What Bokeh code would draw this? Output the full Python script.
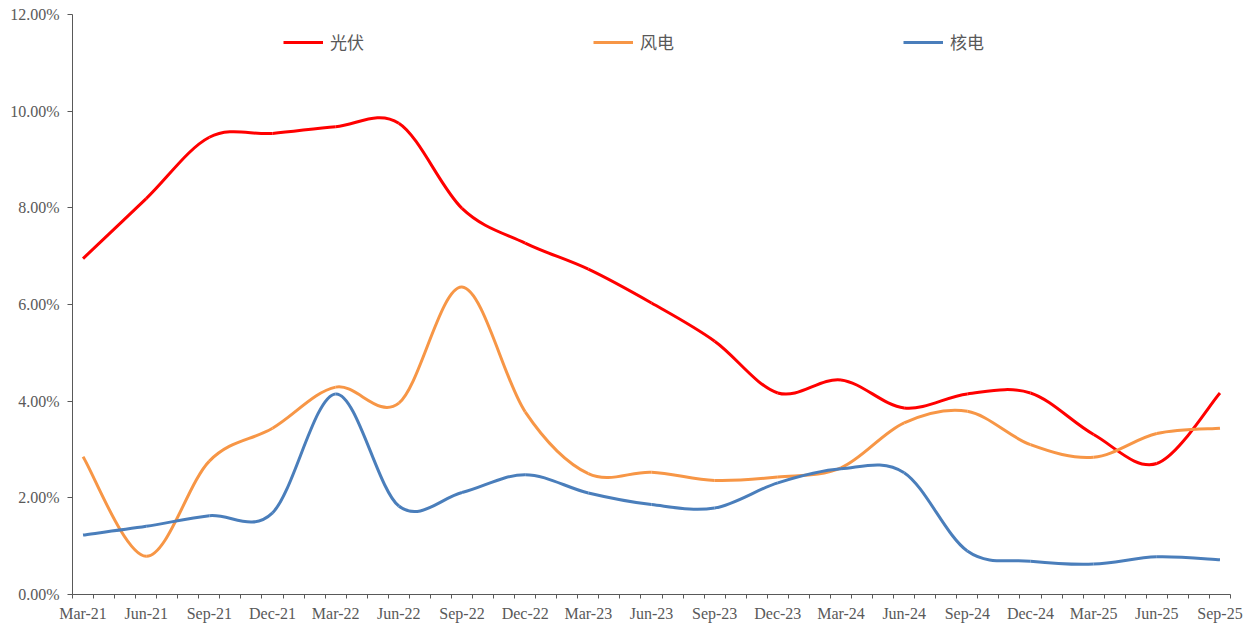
import numpy as np
from bokeh.plotting import figure
from bokeh.models import (ColumnDataSource, Range1d, FixedTicker, PrintfTickFormatter,
                          Legend, LegendItem)
from bokeh.embed import file_html
from bokeh.resources import INLINE

# ---- data (quarterly, %) ----
quarters = ["Mar-21", "Jun-21", "Sep-21", "Dec-21", "Mar-22", "Jun-22", "Sep-22", "Dec-22",
            "Mar-23", "Jun-23", "Sep-23", "Dec-23", "Mar-24", "Jun-24", "Sep-24", "Dec-24",
            "Mar-25", "Jun-25", "Sep-25"]
solar = [6.95, 8.19, 9.46, 9.54, 9.68, 9.75, 7.99, 7.27, 6.73, 6.03, 5.24, 4.17,
         4.44, 3.86, 4.15, 4.17, 3.31, 2.71, 4.17]
wind = [2.85, 0.79, 2.76, 3.44, 4.29, 3.96, 6.36, 3.78, 2.50, 2.53, 2.36, 2.43,
        2.62, 3.55, 3.79, 3.10, 2.84, 3.33, 3.44]
nuclear = [1.23, 1.41, 1.63, 1.69, 4.15, 1.83, 2.11, 2.48, 2.10, 1.86, 1.79, 2.31,
           2.60, 2.52, 0.90, 0.69, 0.63, 0.78, 0.72]
series_names = ["光伏", "风电", "核电"]
series_colors = ["#FF0000", "#F79646", "#4A7EBB"]

# month index of each quarter on a monthly axis
months = [3 * i for i in range(len(quarters))]


def smooth_source(xs, ys):
    """Bezier segments (Catmull-Rom style smoothing, like a spreadsheet 'smoothed line')."""
    n = len(xs)
    d = dict(x0=[], y0=[], x1=[], y1=[], cx0=[], cy0=[], cx1=[], cy1=[])
    for i in range(n - 1):
        xp, yp = (xs[i - 1], ys[i - 1]) if i > 0 else (xs[i], ys[i])
        xn, yn = (xs[i + 2], ys[i + 2]) if i + 2 < n else (xs[i + 1], ys[i + 1])
        d["x0"].append(xs[i]); d["y0"].append(ys[i])
        d["x1"].append(xs[i + 1]); d["y1"].append(ys[i + 1])
        d["cx0"].append(xs[i] + (xs[i + 1] - xp) / 6.0)
        d["cy0"].append(ys[i] + (ys[i + 1] - yp) / 6.0)
        d["cx1"].append(xs[i + 1] - (xn - xs[i]) / 6.0)
        d["cy1"].append(ys[i + 1] - (yn - ys[i]) / 6.0)
    return ColumnDataSource(d)


p = figure(width=1245, height=624, output_backend="svg", toolbar_location=None,
           x_range=Range1d(-0.5, 54.5), y_range=Range1d(0, 12),
           min_border_top=14, min_border_left=72, min_border_right=15, min_border_bottom=20)
p.outline_line_color = None
p.xgrid.visible = False
p.ygrid.visible = False
p.background_fill_color = "white"
p.border_fill_color = "white"

items = []
for name, vals, col in zip(series_names, [solar, wind, nuclear], series_colors):
    src = smooth_source(months, vals)
    p.bezier(x0="x0", y0="y0", x1="x1", y1="y1", cx0="cx0", cy0="cy0", cx1="cx1", cy1="cy1",
             source=src, line_color=col, line_width=3)
    leg_r = p.line(x=np.array([np.nan]), y=np.array([np.nan]), line_color=col, line_width=3)
    items.append(LegendItem(label=name, renderers=[leg_r]))

legend = Legend(items=items, orientation="horizontal", location=(211, 540),
                padding=0, margin=0, spacing=30, glyph_width=40, glyph_height=20,
                label_standoff=7, label_width=233,
                label_text_font="Noto Sans CJK SC", label_text_font_size="17px",
                label_text_color="#595959", label_text_baseline="middle",
                background_fill_alpha=0, border_line_color=None)
p.add_layout(legend, "center")

# axes
ax = p.xaxis[0]
ax.ticker = FixedTicker(ticks=months, minor_ticks=[m - 0.5 for m in range(56)])
ax.major_label_overrides = {m: q for m, q in zip(months, quarters)}
ax.major_tick_out = 0
ax.major_tick_in = 0
ax.minor_tick_out = 4
ax.minor_tick_in = 0
ax.minor_tick_line_color = "#595959"
ax.axis_line_color = "#595959"
ax.axis_line_width = 1
ax.major_label_standoff = 6
ax.major_label_text_font = "Liberation Serif"
ax.major_label_text_font_size = "16px"
ax.major_label_text_color = "#595959"

ay = p.yaxis[0]
ay.ticker = FixedTicker(ticks=[0, 2, 4, 6, 8, 10, 12])
ay.formatter = PrintfTickFormatter(format="%.2f%%")
ay.major_tick_out = 5
ay.major_tick_in = 0
ay.minor_tick_out = 0
ay.minor_tick_in = 0
ay.major_tick_line_color = "#595959"
ay.axis_line_color = "#595959"
ay.major_label_standoff = 8
ay.major_label_text_font = "Liberation Serif"
ay.major_label_text_font_size = "16px"
ay.major_label_text_color = "#595959"

open("out.html", "w").write(file_html(p, INLINE))
